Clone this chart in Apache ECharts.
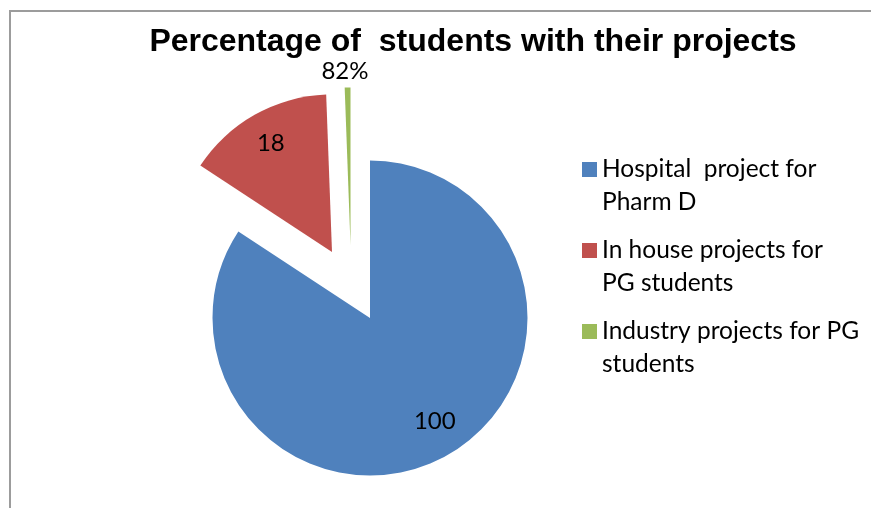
<!DOCTYPE html>
<html>
<head>
<meta charset="utf-8">
<script src="https://cdn.jsdelivr.net/npm/echarts@6/dist/echarts.min.js"></script>
<style>
  html, body { margin: 0; padding: 0; background: #fff; overflow: hidden; }
  #wrap { position: relative; width: 871px; height: 508px; overflow: hidden; }
  #frame { position: absolute; left: 9px; top: 10px; width: 1000px; height: 1000px;
           border-top: 2px solid #9c9c9c; border-left: 2px solid #9c9c9c; }
  #chart { position: absolute; left: 0; top: 0; width: 871px; height: 508px; }
</style>
</head>
<body>
<div id="wrap"><div id="frame"></div><div id="chart"></div></div>
<script>
// ---- data ----
const titleText = 'Percentage of  students with their projects';
const categories = ['Hospital  project for Pharm D', 'In house projects for PG students', 'Industry projects for PG students'];
const legendLabels = ['Hospital  project for\nPharm D', 'In house projects for\nPG students', 'Industry projects for PG\nstudents'];
const values = [100, 18, 0.7];
const sliceLabels = ['100', '18', '82%'];
const colors = ['#4F81BD', '#C0504D', '#9BBB59'];

// ---- layout / style ----
const centers = [[370, 318], [332, 252], [350.5, 245]];
const labelOffsets = [[26, 31], [-21, -38], [-4, -92]];
const radius = 157.5;
const labelFont = { fontFamily: 'Lato', fontSize: 24, color: '#000' };

const series = categories.map(function (_, s) {
  return {
    type: 'pie',
    silent: true,
    animation: false,
    center: centers[s],
    radius: [0, radius],
    startAngle: 90,
    clockwise: true,
    avoidLabelOverlap: false,
    labelLine: { show: false },
    data: categories.map(function (name, i) {
      const mine = i === s;
      return {
        name: name,
        value: values[i],
        itemStyle: { color: mine ? colors[i] : 'rgba(0,0,0,0)', borderWidth: 0 },
        label: mine ? Object.assign({
          show: true,
          position: 'inside',
          formatter: sliceLabels[i],
          offset: labelOffsets[i]
        }, labelFont) : { show: false }
      };
    })
  };
});

const chart = echarts.init(document.getElementById('chart'), null, { renderer: 'canvas' });
chart.setOption({
  animation: false,
  backgroundColor: 'transparent',
  title: {
    text: titleText,
    left: 468,
    top: 21,
    textAlign: 'center',
    textStyle: { fontFamily: 'Liberation Sans', fontWeight: 'bold', fontSize: 32, color: '#000' }
  },
  legend: {
    orient: 'vertical',
    left: 577,
    top: 115,
    icon: 'rect',
    itemWidth: 15,
    itemHeight: 15,
    itemGap: -18,
    selectedMode: false,
    data: categories.map(function (name, i) {
      return { name: name, itemStyle: { color: colors[i] } };
    }),
    // a blank leading line keeps the first text line level with the marker
    formatter: function (name) { return '\n' + legendLabels[categories.indexOf(name)]; },
    textStyle: { fontFamily: 'Lato', fontSize: 24.5, color: '#000', lineHeight: 33 }
  },
  series: series
});
</script>
</body>
</html>
